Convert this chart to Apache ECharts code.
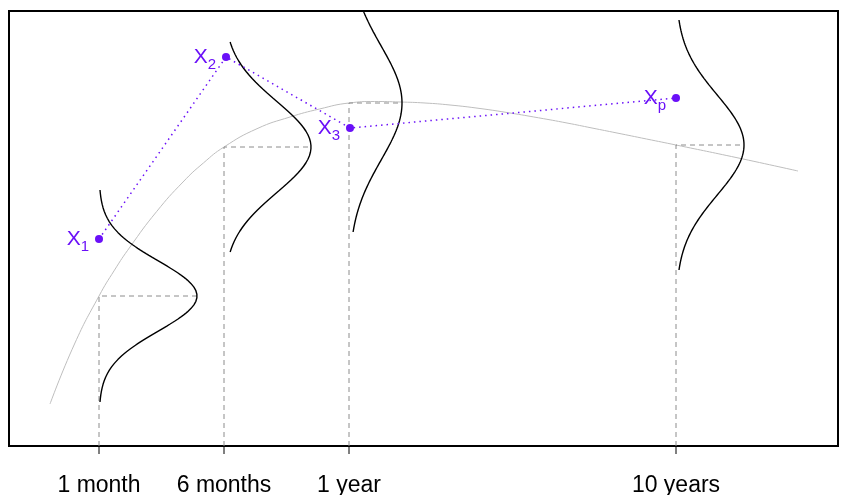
<!DOCTYPE html>
<html>
<head>
<meta charset="utf-8">
<script src="https://cdn.jsdelivr.net/npm/echarts@6/dist/echarts.min.js"></script>
<style>html,body{margin:0;padding:0;background:#fff}#c{width:841px;height:495px}</style>
</head>
<body>
<div id="c"></div>
<script>
// Maturities on the x axis
const maturityLabels = ['1 month', '6 months', '1 year', '10 years'];
const maturityPos = [1, 2, 3, 5.616];

// Smooth yield curve (grey)
const curveX = [0.608, 0.804, 1.000, 1.124, 1.248, 1.46, 1.672, 1.836, 2.000, 2.264, 2.528, 2.764, 3.000, 3.204, 3.408, 3.608, 3.808, 4.048, 4.288, 4.516, 4.744, 4.944, 5.144, 5.38, 5.616, 6.104, 6.592];
const curveY = [0.42, 1.02, 1.50, 1.759, 1.99, 2.343, 2.64, 2.831, 2.99, 3.173, 3.29, 3.37, 3.43, 3.445, 3.44, 3.43, 3.41, 3.375, 3.33, 3.282, 3.23, 3.18, 3.13, 3.07, 3.01, 2.883, 2.75];

// Normal densities at each maturity
const meanYield = [1.50, 2.99, 3.43, 3.01];
const densitySd = [0.35, 0.456, 0.57, 0.50];
const densityPeak = [0.784, 0.696, 0.424, 0.544];
const densityHalfRange = [1.06, 1.05, 1.29, 1.25];

// Observed points X1, X2, X3, Xp
const obsSub = ['1', '2', '3', 'p'];
const obsX = [1, 2.016, 3.008, 5.616];
const obsY = [2.07, 3.89, 3.18, 3.48];

const PURPLE = '#6a10f8';

const curveData = curveX.map((x, i) => [x, curveY[i]]);

const guideData = [];
maturityPos.forEach((x, i) => {
  guideData.push([x, 0], [x, meanYield[i]], [x + densityPeak[i], meanYield[i]], [null, null]);
});

const densitySeries = maturityPos.map((x0, i) => {
  const pts = [];
  const n = 120;
  for (let k = 0; k <= n; k++) {
    const y = meanYield[i] - densityHalfRange[i] + 2 * densityHalfRange[i] * k / n;
    const z = (y - meanYield[i]) / densitySd[i];
    pts.push([x0 + densityPeak[i] * Math.exp(-0.5 * z * z), y]);
  }
  return {
    type: 'line', data: pts, symbol: 'none', clip: true, silent: true,
    lineStyle: { color: '#000', width: 1.4 }, z: 3
  };
});

const obsData = obsX.map((x, i) => ({
  value: [x, obsY[i]],
  label: { formatter: '{x|X}{s|' + obsSub[i] + '}' }
}));

const option = {
  animation: false,
  grid: { left: 9, right: 3, top: 11, bottom: 49, outerBoundsMode: 'none', containLabel: false,
          show: true, borderColor: '#000', borderWidth: 2, backgroundColor: 'transparent' },
  xAxis: {
    type: 'value', min: 0.28, max: 6.912,
    axisLine: { show: false },
    splitLine: { show: false },
    axisTick: { show: false },
    axisLabel: {
      customValues: maturityPos, margin: 28,
      fontFamily: 'Liberation Sans', fontSize: 23, color: '#000',
      formatter: v => { const i = maturityPos.indexOf(v); return i >= 0 ? maturityLabels[i] : ''; }
    }
  },
  yAxis: { type: 'value', min: 0, max: 4.35, show: false, splitLine: { show: false } },
  series: [
    { type: 'line', data: curveData, smooth: 0.5, symbol: 'none', silent: true,
      lineStyle: { color: '#bebebe', width: 1 }, z: 1 },
    { type: 'line', data: guideData, symbol: 'none', connectNulls: false, silent: true,
      lineStyle: { color: '#8c8c8c', width: 1, type: [5, 4] }, z: 2 },
    { type: 'custom', data: maturityPos.map(x => [x, 0]), silent: true, clip: false, z: 2,
      renderItem: (params, api) => {
        const p = api.coord([api.value(0), api.value(1)]);
        return { type: 'line', shape: { x1: p[0], y1: p[1] + 1, x2: p[0], y2: p[1] + 8 },
                 style: { stroke: '#000', lineWidth: 1 } };
      } },
    ...densitySeries,
    { type: 'line', data: obsData, symbol: 'circle', symbolSize: 8,
      itemStyle: { color: PURPLE },
      lineStyle: { color: PURPLE, width: 1.5, type: [1.5, 4] },
      label: {
        show: true, position: 'left', distance: 6, color: PURPLE,
        rich: {
          x: { fontFamily: 'Liberation Sans', fontSize: 21, color: PURPLE, lineHeight: 22 },
          s: { fontFamily: 'Liberation Sans', fontSize: 15, color: PURPLE, lineHeight: 22, padding: [16, 0, 0, 0] }
        }
      },
      z: 4 }
  ]
};

echarts.init(document.getElementById('c')).setOption(option);
</script>
</body>
</html>
